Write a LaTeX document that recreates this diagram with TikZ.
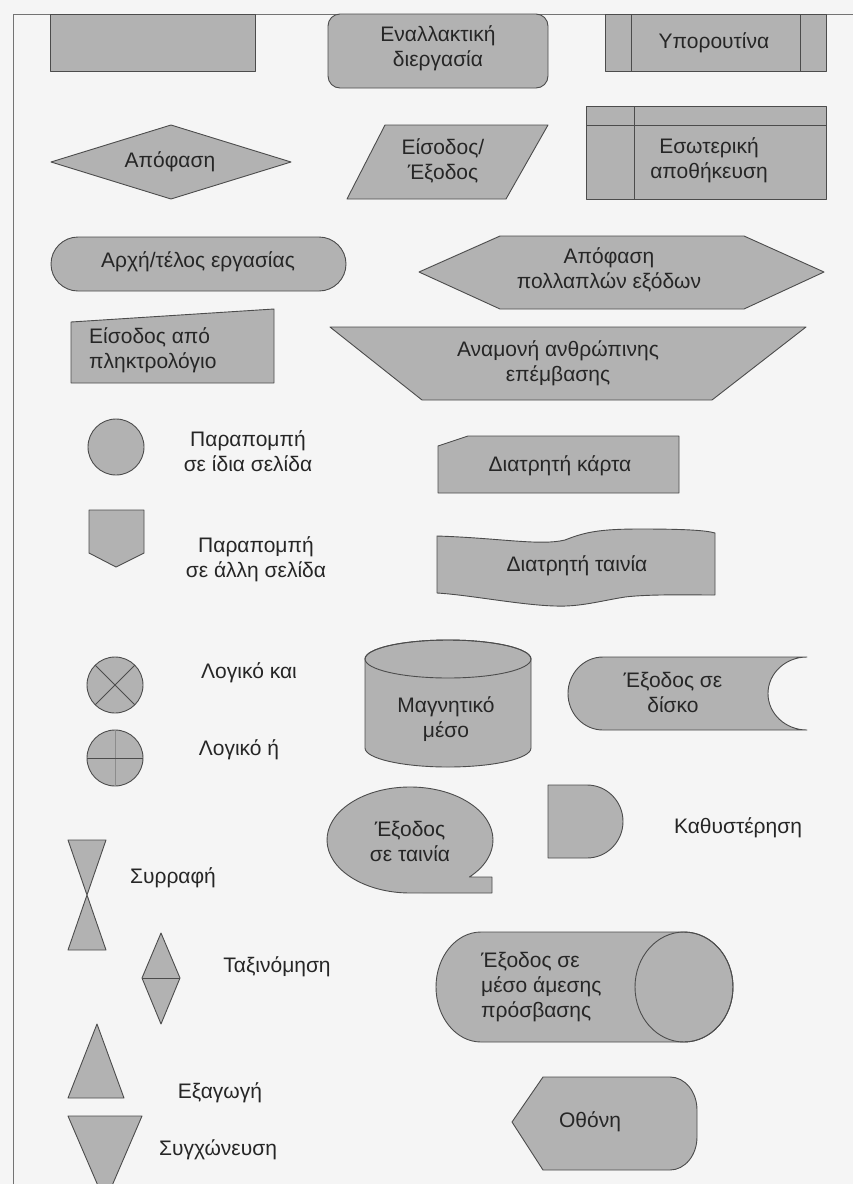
\documentclass[tikz,border=0pt]{standalone}
\usepackage{fontspec}
\setmainfont{Liberation Sans}
\newcommand\lblfont{\fontsize{21}{25}\selectfont}
\begin{document}
\begin{tikzpicture}[x=1pt,y=1pt,yscale=-1,
  sym/.style={draw=black!70, fill=black!30, line width=0.9pt, line join=round},
  inner/.style={draw=black!70, line width=0.9pt},
  faint/.style={draw=black!45, line width=0.5pt},
  frame/.style={draw=black!55, line width=0.8pt},
  lbl/.style={font=\lblfont, text=black!85, inner sep=0pt, align=center},
  lbll/.style={lbl, align=left, anchor=west}]
\useasboundingbox (0,0) rectangle (853,1184);
\fill[black!4] (-2,-2) rectangle (856,1187);
% page frame
\draw[frame] (13,1184) -- (13,14) -- (856,14);

% process
\path[sym] (50,14) rectangle (255,71);
% alternative process
\path[sym, rounded corners=12pt] (328,14) rectangle (548,88);
\node[lbl] (alt) at (438,48) {Εναλλακτική\\διεργασία};
% predefined process
\path[sym] (605,14) rectangle (826,71);
\draw[inner] (631,14) -- (631,71) (800,14) -- (800,71);
\node[lbl] (sub) at (714,43) {Υπορουτίνα};

% decision
\path[sym] (51,162) -- (171,125) -- (291,162) -- (171,199) -- cycle;
\node[lbl] (dec) at (170,162) {Απόφαση};
% data
\path[sym] (385,125) -- (548,125) -- (506,199) -- (347,199) -- cycle;
\node[lbl] (io) at (443,161) {Είσοδος/\\Έξοδος};
% internal storage
\path[sym] (586,106) rectangle (826,199);
\draw[inner] (586,125) -- (826,125) (634,106) -- (634,199);
\node[lbl] (ist) at (709,160) {Εσωτερική\\αποθήκευση};

% terminator
\path[sym, rounded corners=27pt] (51,237) rectangle (346,291);
\node[lbl] (term) at (198,262) {Αρχή/τέλος εργασίας};
% multi-way decision
\path[sym] (419,272) -- (500,236) -- (744,236) -- (824,272) -- (744,309) -- (500,309) -- cycle;
\node[lbl] (mdec) at (609,270) {Απόφαση\\πολλαπλών εξόδων};

% manual input
\path[sym] (71,322) -- (274,309) -- (274,383) -- (71,383) -- cycle;
\node[lbll] (kbd) at (89,350) {Είσοδος από\\πληκτρολόγιο};
% manual operation
\path[sym] (330,327) -- (806,327) -- (712,400) -- (422,400) -- cycle;
\node[lbl] (man) at (558,363) {Αναμονή ανθρώπινης\\επέμβασης};

% on-page connector
\path[sym] (116,447) circle[radius=28];
\node[lbl] (onp) at (248,451) {Παραπομπή\\σε ίδια σελίδα};
% punched card
\path[sym] (438,446) -- (468,436) -- (679,436) -- (679,493) -- (438,493) -- cycle;
\node[lbl] (card) at (560,466) {Διατρητή κάρτα};

% off-page connector
\path[sym] (89,510) -- (144,510) -- (144,553) -- (116,567) -- (89,553) -- cycle;
\node[lbl] (offp) at (256,559) {Παραπομπή\\σε άλλη σελίδα};
% punched tape
\path[sym] (437,536) .. controls (500,538) and (540,546) .. (565,540)
  .. controls (585,532) and (600,529) .. (640,529)
  .. controls (680,529) and (705,530) .. (715,533)
  -- (715,595) .. controls (690,595) and (650,594) .. (625,597)
  .. controls (600,601) and (580,607) .. (555,606)
  .. controls (520,605) and (470,595) .. (437,593) -- cycle;
\node[lbl] (tape) at (577,566) {Διατρητή ταινία};

% summing junction (and)
\path[sym] (115,685) circle[radius=28];
\draw[inner] (95.2,665.2) -- (134.8,704.8) (95.2,704.8) -- (134.8,665.2);
\node[lbl] (land) at (249,673) {Λογικό και};
% or
\path[sym] (115,758) circle[radius=28];
\draw[faint] (115,730) -- (115,786);
\draw[inner] (87,758) -- (143,758);
\node[lbl] (lor) at (239,750) {Λογικό ή};

% magnetic disk
\path[sym] (365,659) -- (365,748) arc[start angle=180, end angle=0, x radius=83, y radius=19]
  -- (531,659) arc[start angle=0, end angle=-180, x radius=83, y radius=19] -- cycle;
\draw[inner] (448,659) ellipse[x radius=83, y radius=19];
\node[lbl] (mag) at (446,719) {Μαγνητικό\\μέσο};
% stored data
\path[sym] (603,657) -- (807,657) arc[start angle=-90, end angle=-270, x radius=39, y radius=36.5]
  -- (603,730) arc[start angle=90, end angle=270, x radius=35, y radius=36.5] -- cycle;
\node[lbl] (disk) at (673,692) {Έξοδος σε\\δίσκο};

% sequential access storage
\path[sym] (469.4,877) arc[start angle=44.3, end angle=-270, x radius=83, y radius=53]
  -- (492,893) -- (492,877) -- cycle;
\node[lbl] (seq) at (410,841) {Έξοδος\\σε ταινία};
% delay
\path[sym] (548,785) -- (587,785) arc[start angle=-90, end angle=90, x radius=36, y radius=36.5]
  -- (548,858) -- cycle;
\node[lbl] (delay) at (738,828) {Καθυστέρηση};

% collate
\path[sym] (68,840) -- (106,840) -- (68,950) -- (106,950) -- cycle;
\node[lbl] (coll) at (173,878) {Συρραφή};
% sort
\path[sym] (161,933) -- (180,978) -- (161,1024) -- (142,978) -- cycle;
\draw[inner] (142,978) -- (180,978);
\node[lbl] (sort) at (277,967) {Ταξινόμηση};
% direct access storage
\path[sym] (481,932) -- (684,932) arc[start angle=-90, end angle=90, x radius=49, y radius=55]
  -- (481,1042) arc[start angle=90, end angle=270, x radius=45, y radius=55] -- cycle;
\draw[inner] (684,987) ellipse[x radius=49, y radius=55];
\node[lbll] (das) at (481,987) {Έξοδος σε\\μέσο άμεσης\\πρόσβασης};

% extract
\path[sym] (97,1024) -- (124,1098) -- (68,1098) -- cycle;
\node[lbl] (extr) at (220,1093) {Εξαγωγή};
% merge
\path[sym] (68,1116) -- (142,1116) -- (105,1202) -- cycle;
\node[lbl] (merge) at (218,1150) {Συγχώνευση};
% display
\path[sym] (512,1122) -- (543,1077) -- (670,1077) arc[start angle=-90, end angle=0, x radius=27, y radius=33]
  -- (697,1137) arc[start angle=0, end angle=90, x radius=27, y radius=33] -- (543,1170) -- cycle;
\node[lbl] (disp) at (590,1122) {Οθόνη};
\end{tikzpicture}
\end{document}
